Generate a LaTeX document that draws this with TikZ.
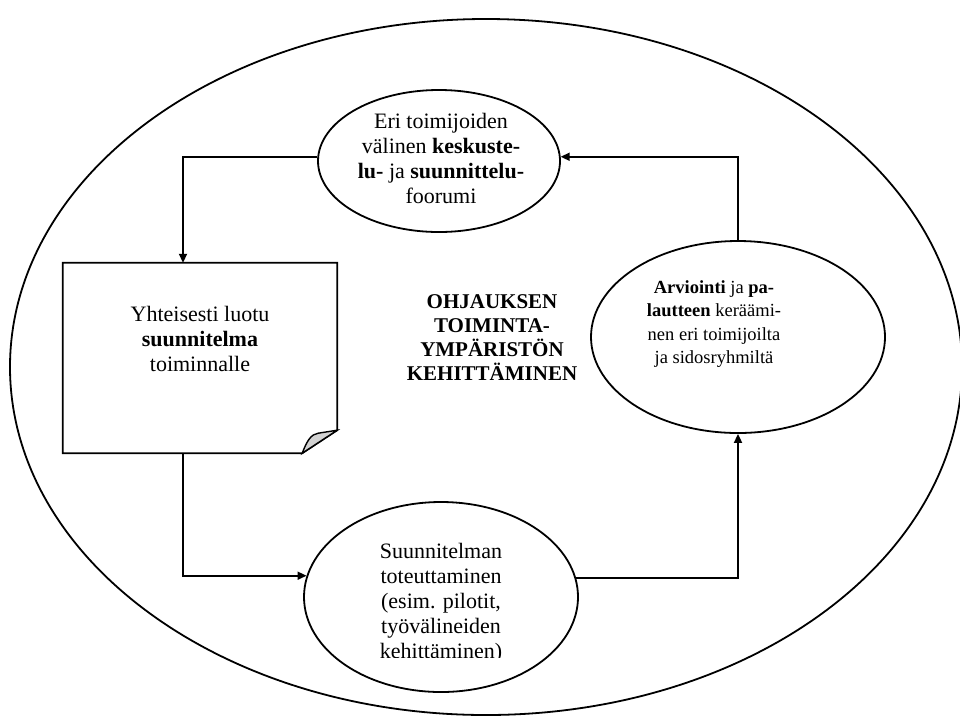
\documentclass[tikz,border=0pt]{standalone}
\usepackage{fontspec}
\setmainfont{Liberation Serif}
\usetikzlibrary{shapes.geometric,arrows.meta}
\begin{document}
\begin{tikzpicture}[x=1pt, y=-1pt,
		bubble/.style={ellipse, draw, line width=1.8pt, inner sep=0pt},
		txt/.style={align=center, inner sep=0pt, font=\fontsize{22}{25}\selectfont},
		cambria/.style={align=center, inner sep=0pt, font=\fontsize{18.5}{23.5}\selectfont},
		arr/.style={line width=1.8pt, -{Triangle[length=9pt, width=8pt]}}]
				\useasboundingbox (0, 0) rectangle (960, 716);
				\draw [line width=1.8pt] (486, 367) ellipse [x radius=476, y radius=348];
				% the four steps of the cycle
				\node (forum) [bubble, minimum width=242pt, minimum height=142pt] at (439, 161) {};
				\node (plan) [minimum width=274pt, minimum height=190pt, inner sep=0pt] at (200, 358) {};
				\node (pilot) [bubble, minimum width=274pt, minimum height=190pt] at (441, 597) {};
				\node (feedback) [bubble, minimum width=294pt, minimum height=192pt] at (738, 337) {};
				\draw [line width=1.8pt] (plan.north west) -- (plan.north east) -- ([yshift=23pt]plan.south east)
					-- ([xshift=-35pt]plan.south east) -- (plan.south west) -- cycle;
				\filldraw [line width=1.4pt, fill=gray!35] ([xshift=-35pt]plan.south east)
					.. controls +(5pt, 13pt) and +(-7pt, -1pt) .. ([xshift=-19pt, yshift=20pt]plan.south east)
					-- ([yshift=23pt]plan.south east) -- cycle;
				% texts
				\node (forumtext) [txt] at (441, 158) {Eri toimijoiden\\ välinen \textbf{keskuste-}\\ \textbf{lu-} ja \textbf{suunnittelu-}\\ foorumi};
				\node (plantext) [txt] at (200, 339) {Yhteisesti luotu\\ \textbf{suunnitelma}\\ toiminnalle};
				\begin{scope}
					\clip (300, 500) rectangle (580, 657);
					\node (pilottext) [txt] at (441, 603) {Suunnitelman\\ toteuttaminen\\ (esim. pilotit,\\ työvälineiden\\ kehittäminen)};
				\end{scope}
				\node (feedbacktext) [cambria] at (714, 324) {\textbf{Arviointi} ja \textbf{pa-}\\ \textbf{lautteen} keräämi-\\ nen eri toimijoilta\\ ja sidosryhmiltä};
				\node (goal) [cambria, font=\fontsize{21}{24}\selectfont\bfseries] at (492, 338) {OHJAUKSEN\\ TOIMINTA-\\ YMPÄRISTÖN\\ KEHITTÄMINEN};
				% connectors
				\draw [arr] (forum.178) -| ([xshift=-17pt]plan.north);
				\draw [arr] ([xshift=-17pt]plan.south) |- (pilot.171.5);
				\draw [arr] (pilot.8.5) -| (feedback.south);
				\draw [arr] (feedback.north) |- (forum.2);
			\end{tikzpicture}
\end{document}
